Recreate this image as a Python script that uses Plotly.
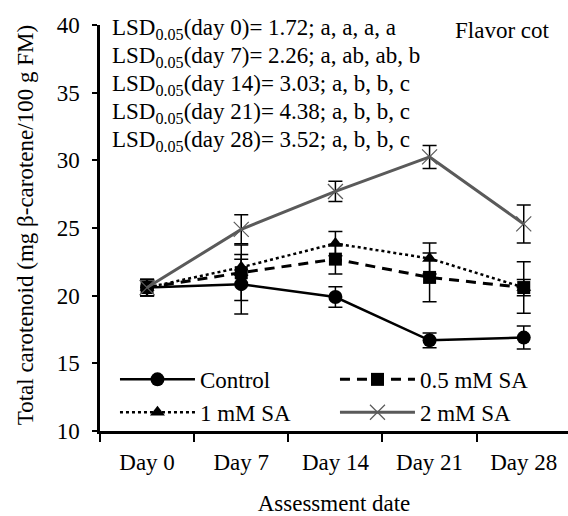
import plotly.graph_objects as go

days = ["Day 0", "Day 7", "Day 14", "Day 21", "Day 28"]
control = [20.6, 20.85, 19.9, 16.7, 16.9]
control_err = [0.6, 2.2, 0.75, 0.55, 0.85]
sa05 = [20.6, 21.7, 22.7, 21.35, 20.6]
sa05_err = [0.6, 2.05, 1.1, 1.8, 1.9]
sa1 = [20.6, 22.1, 23.85, 22.75, 20.6]
sa1_err = [0.6, 0.6, 0.9, 1.15, 0.6]
sa2 = [20.6, 24.9, 27.7, 30.25, 25.3]
sa2_err = [0.6, 1.07, 0.75, 0.85, 1.4]
lsd_lines = [
    ("0", "1.72", "a, a, a, a"),
    ("7", "2.26", "a, ab, ab, b"),
    ("14", "3.03", "a, b, b, c"),
    ("21", "4.38", "a, b, b, c"),
    ("28", "3.52", "a, b, b, c"),
]
y_title = "Total carotenoid (mg β-carotene/100 g FM)"
x_title = "Assessment date"
panel_label = "Flavor cot"

FONT = "Liberation Serif, Times New Roman, serif"
FS = 23
GREY = "#5a5a5a"

fig = go.Figure()

def err(vals):
    return dict(type="data", array=vals, visible=True, color="black", thickness=1.5, width=7)

fig.add_trace(go.Scatter(
    x=days, y=control, name="Control", mode="lines+markers",
    line=dict(color="black", width=2.5),
    marker=dict(symbol="circle", size=14, color="black"),
    error_y=err(control_err)))
fig.add_trace(go.Scatter(
    x=days, y=sa05, name="0.5 mM SA", mode="lines+markers",
    line=dict(color="black", width=3, dash="10px,7px"),
    marker=dict(symbol="square", size=13, color="black"),
    error_y=err(sa05_err)))
fig.add_trace(go.Scatter(
    x=days, y=sa1, name="1 mM SA", mode="lines+markers",
    line=dict(color="black", width=2.5, dash="dot"),
    marker=dict(symbol="triangle-up", size=13, color="black"),
    error_y=err(sa1_err)))
fig.add_trace(go.Scatter(
    x=days, y=sa2, name="2 mM SA", mode="lines+markers",
    line=dict(color=GREY, width=3),
    marker=dict(symbol="x-thin-open", size=15, color=GREY, line=dict(color=GREY, width=1.2)),
    error_y=err(sa2_err)))

annotations = []
for i, (d, v, letters) in enumerate(lsd_lines):
    annotations.append(dict(
        xref="paper", yref="y", x=0.021, y=39.72 - i * 2.08, xanchor="left", yanchor="middle",
        text=f"LSD<sub>0.05</sub>(day {d})= {v}; {letters}", showarrow=False,
        font=dict(family=FONT, size=FS, color="black")))
annotations.append(dict(
    xref="paper", yref="y", x=0.754, y=39.63, xanchor="left", yanchor="middle",
    text=panel_label, showarrow=False, font=dict(family=FONT, size=FS, color="black")))
annotations.append(dict(
    xref="paper", yref="paper", x=-0.160, y=0.507, xanchor="center", yanchor="middle",
    text=y_title, textangle=-90, showarrow=False,
    font=dict(family=FONT, size=FS, color="black")))

fig.update_layout(
    width=568, height=516,
    margin=dict(l=100, r=0, t=25, b=85),
    paper_bgcolor="white", plot_bgcolor="white",
    font=dict(family=FONT, size=FS, color="black"),
    showlegend=True,
    legend=dict(orientation="h", x=0.032, y=0.18, xanchor="left", yanchor="top",
                entrywidth=130, entrywidthmode="pixels",
                font=dict(family=FONT, size=FS, color="black"), bgcolor="rgba(0,0,0,0)",
                itemwidth=75),
    annotations=annotations,
    xaxis=dict(type="category", range=[-0.5, 4.47], tickson="boundaries",
               showline=True, linecolor="black", linewidth=2.5,
               ticks="outside", ticklen=8, tickwidth=2, tickcolor="black",
               showgrid=False, zeroline=False, ticklabelstandoff=9,
               tickfont=dict(family=FONT, size=FS),
               title=dict(text=x_title, font=dict(family=FONT, size=FS), standoff=22)),
    yaxis=dict(range=[10, 40], tickvals=[10, 15, 20, 25, 30, 35, 40],
               showline=True, linecolor="black", linewidth=2.5,
               ticks="outside", ticklen=5, tickwidth=2, tickcolor="black",
               showgrid=False, zeroline=False, ticklabelstandoff=8,
               tickfont=dict(family=FONT, size=FS)),
)

fig.write_html("out.html")
